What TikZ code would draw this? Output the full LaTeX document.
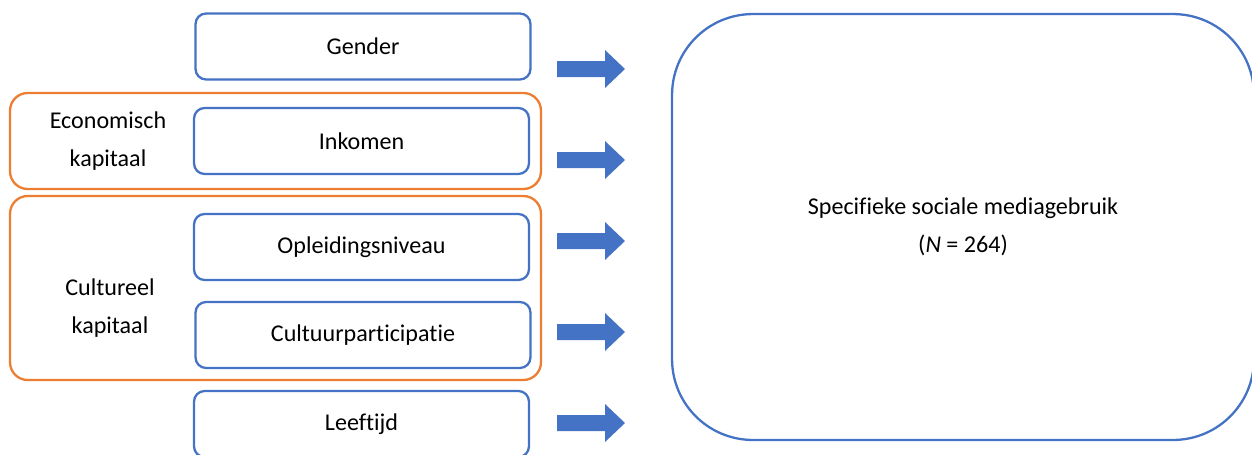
\documentclass[tikz,border=0pt]{standalone}
\usepackage{fontspec}
\setmainfont{Carlito}[Ligatures=NoCommon]
\usetikzlibrary{positioning}
\definecolor{ppblue}{HTML}{4472C4}
\definecolor{pporange}{HTML}{ED7D31}
\tikzset{
  varbox/.style={draw=ppblue, line width=1.3pt, rounded corners=6pt, minimum width=6.7cm, minimum height=1.32cm},
  capbox/.style={draw=pporange, line width=1.3pt, rounded corners=10pt, minimum width=10.62cm},
  caplabel/.style={align=center},
  blockarrow/.style={fill=ppblue}
}

\begin{document}
\begin{tikzpicture}[x=0.02cm, y=-0.02cm, font=\fontsize{13.7}{21.5}\selectfont]
  \useasboundingbox (0,0) rectangle (1252,454);
  \node[capbox, minimum height=1.92cm] (econ) at (275.5,141) {};
  \node[capbox, minimum height=3.68cm] (cult) at (275.5,288) {};
  \node[caplabel] (econlabel) at (108,141) {Economisch\\kapitaal};
  \node[caplabel] (cultlabel) at (110,308) {Cultureel\\kapitaal};
  \node[varbox] (gender) at (363,46.5) {Gender};
  \node[varbox] (inkomen) at (361.5,141) {Inkomen};
  \node[varbox] (opleiding) at (361.5,247) {Opleidingsniveau};
  \node[varbox] (cultuur) at (363,335) {Cultuurparticipatie};
  \node[varbox] (leeftijd) at (361.5,424) {Leeftijd};
  \node[draw=ppblue, line width=1.3pt, rounded corners=46pt, minimum width=11.64cm, minimum height=8.52cm, align=center] (gebruik) at (963,227)
    {Specifieke sociale mediagebruik\\({\itshape N} = 264)};
  \foreach \y in {69,160,241,332,423}
    \fill[blockarrow] (557,\y-8) -- (605,\y-8) -- (605,\y-19) -- (625,\y) -- (605,\y+19) -- (605,\y+8) -- (557,\y+8) -- cycle;
\end{tikzpicture}
\end{document}
